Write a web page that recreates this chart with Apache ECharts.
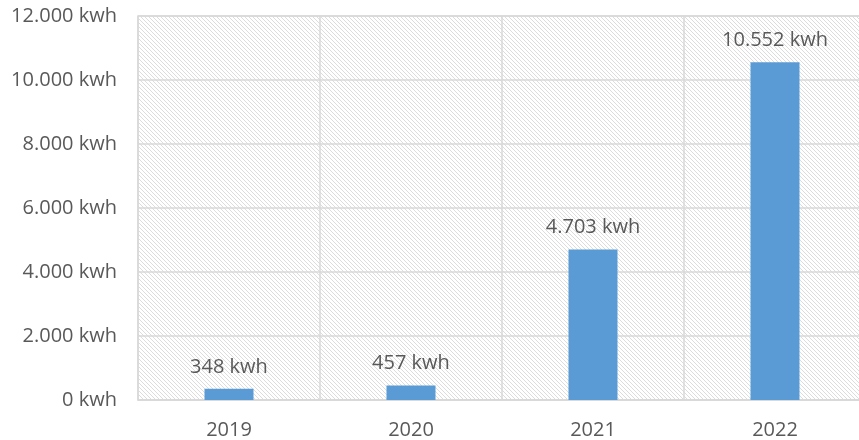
<!DOCTYPE html>
<html>
<head>
<meta charset="utf-8">
<style>
html,body{margin:0;padding:0;background:#fff;overflow:hidden;width:859px;height:440px;}
#chart{width:868px;height:440px;}
</style>
<script src="https://cdn.jsdelivr.net/npm/echarts@6/dist/echarts.min.js"></script>
</head>
<body>
<div id="chart"></div>
<script>
const categories = ['2019', '2020', '2021', '2022'];
const energyKwh = [348, 457, 4703, 10552];
const yTicks = [0, 2000, 4000, 6000, 8000, 10000, 12000];

function fmt(v) {
  const s = String(Math.round(v));
  return s.replace(/\B(?=(\d{3})+(?!\d))/g, '.') + ' kwh';
}

// hatch pattern
const pc = document.createElement('canvas');
pc.width = 4; pc.height = 4;
const ctx = pc.getContext('2d');
ctx.fillStyle = '#ffffff';
ctx.fillRect(0, 0, 4, 4);
ctx.strokeStyle = '#dcdcdc';
ctx.lineWidth = 1;
ctx.beginPath();
ctx.moveTo(-1, -1); ctx.lineTo(5, 5);
ctx.moveTo(3, -1); ctx.lineTo(5, 1);
ctx.moveTo(-1, 3); ctx.lineTo(1, 5);
ctx.stroke();

const chart = echarts.init(document.getElementById('chart'), null, {renderer: 'canvas'});
const textStyle = {color: '#595959', fontFamily: 'Open Sans', fontSize: 20};
chart.setOption({
  animation: false,
  grid: {
    left: 138, right: 2, top: 16, bottom: 40,
    show: true,
    backgroundColor: {image: pc, repeat: 'repeat'},
    borderColor: '#d9d9d9', borderWidth: 1.5
  },
  xAxis: {
    type: 'category',
    data: categories,
    axisTick: {show: false},
    axisLine: {show: true, lineStyle: {color: '#d9d9d9', width: 1.5}},
    splitLine: {show: true, lineStyle: {color: '#d9d9d9', width: 1.5}},
    axisLabel: Object.assign({margin: 20}, textStyle)
  },
  yAxis: {
    type: 'value',
    min: yTicks[0], max: yTicks[yTicks.length - 1], interval: yTicks[1] - yTicks[0],
    axisLine: {show: false},
    axisTick: {show: false},
    splitLine: {show: true, lineStyle: {color: '#d9d9d9', width: 1.5}},
    axisLabel: Object.assign({margin: 21, formatter: fmt, padding: [4, 0, 0, 0]}, textStyle)
  },
  series: [{
    type: 'bar',
    data: energyKwh,
    barWidth: 49,
    itemStyle: {color: '#5b9bd5'},
    label: Object.assign({show: true, position: 'top', distance: 12, formatter: p => fmt(p.value)}, textStyle)
  }]
});
</script>
</body>
</html>
